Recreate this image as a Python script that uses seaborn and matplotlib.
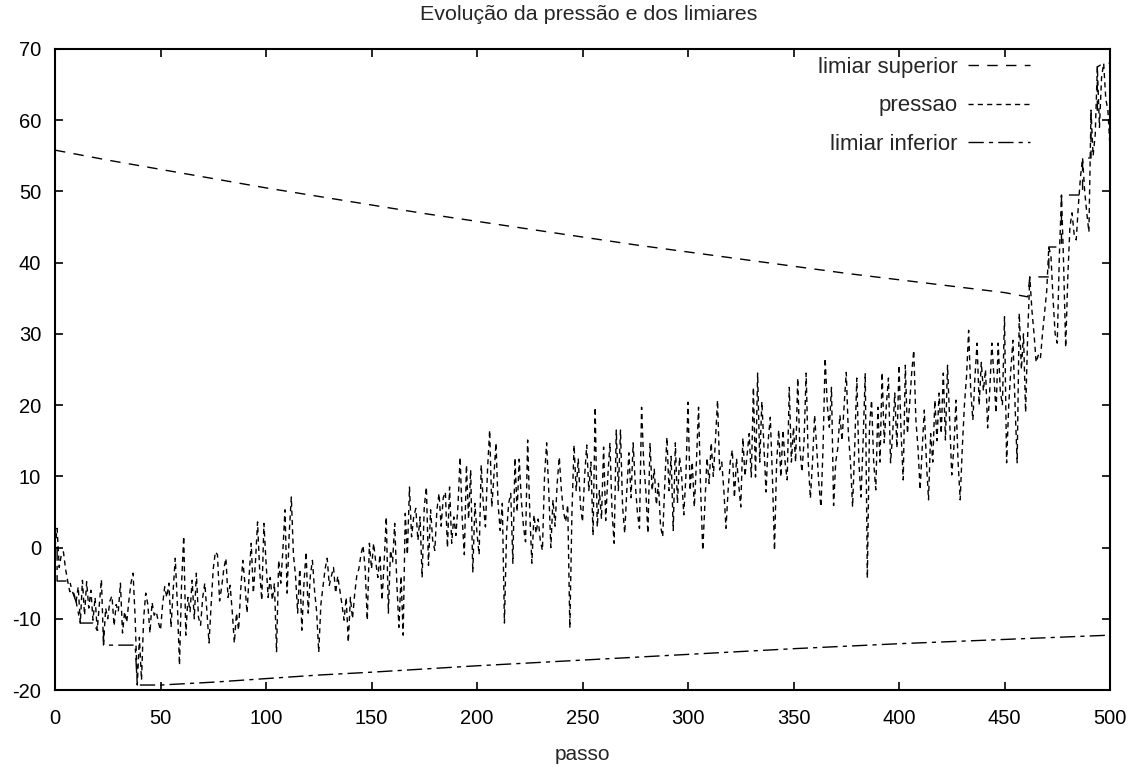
import numpy as np
import pandas as pd
import matplotlib
matplotlib.use("Agg")
import matplotlib.pyplot as plt
import seaborn as sns
from matplotlib.lines import Line2D

# ---- data -------------------------------------------------------------
passo = np.arange(501)

pressao = [
    0.0, 2.7, -2.8, -1.0, -0.6, -3.0, -4.7, -6.2, -6.0, -6.5,
    -7.6, -5.5, -10.6, -4.6, -9.5, -4.8, -8.5, -6.0, -10.2, -7.0,
    -11.6, -8.0, -4.5, -13.7, -8.5, -10.0, -7.5, -6.8, -11.0, -8.0,
    -9.0, -5.0, -12.0, -9.0, -10.5, -7.5, -5.0, -3.6, -10.0, -19.3,
    -12.6, -18.6, -10.0, -6.4, -8.0, -12.0, -7.7, -9.5, -9.0, -10.5,
    -11.6, -8.0, -5.5, -7.0, -5.0, -11.2, -6.0, -1.5, -8.0, -16.5,
    -5.0, 1.6, -12.3, -7.0, -9.0, -4.6, -10.0, -3.6, -9.8, -10.9,
    -7.0, -5.0, -9.0, -13.4, -8.0, -3.0, -0.6, -1.0, -7.5, -5.5,
    -3.0, -1.5, -7.0, -5.3, -9.0, -13.4, -9.2, -11.6, -6.0, -1.8,
    -5.0, -9.2, -4.0, 0.6, -6.4, -2.0, 3.6, -3.2, -7.4, 3.4,
    -2.0, -7.0, -4.2, -7.4, -5.0, -14.7, -1.8, -5.0, -0.4, 5.3,
    -6.4, 2.0, 7.1, -1.0, -4.0, -9.2, -3.0, -11.6, -5.0, -0.6,
    -9.2, -4.0, -1.8, -6.0, -9.0, -14.7, -8.0, -5.5, -3.0, -1.5,
    -5.3, -4.0, -2.8, -6.4, -4.0, -6.0, -8.0, -10.2, -7.0, -13.3,
    -7.0, -10.0, -6.6, -4.0, -3.0, -1.0, 0.3, -3.0, -10.2, 0.6,
    -3.0, 0.6, -2.0, -4.2, -1.0, -7.4, -2.0, 4.3, -9.2, -0.4,
    -2.0, 3.4, -5.0, -11.2, -4.0, -12.3, 4.8, -1.0, 8.5, 1.5,
    4.3, 5.5, 1.0, 4.3, -4.2, 5.7, 8.5, -2.5, 5.3, 1.0,
    -0.4, 5.3, 7.6, 3.0, 7.0, 7.8, 0.0, 8.5, 0.6, 4.3,
    1.7, 6.0, 12.7, 4.0, -1.0, 11.6, 4.0, 10.9, -3.5, 6.2,
    2.0, -1.0, 11.6, 6.0, 2.9, 11.0, 16.5, 5.7, 10.0, 14.7,
    6.0, 2.4, 6.2, -10.6, 2.0, 6.2, 7.6, -2.2, 12.6, 5.0,
    12.4, 6.7, 3.0, 0.8, 15.1, 5.0, -2.2, 4.6, 2.0, 4.0,
    1.0, -0.4, 10.0, 14.7, 8.0, 0.0, 6.7, 3.0, 9.0, 12.7,
    8.0, 5.0, 3.6, 6.0, -11.3, 5.0, 14.4, 8.0, 12.5, 6.0,
    3.6, 10.0, 14.4, 8.0, 12.0, 1.7, 19.7, 2.9, 8.0, 4.0,
    14.1, 3.8, 10.0, 14.7, 5.0, 0.6, 16.5, 8.0, 16.5, 5.7,
    2.0, 8.0, 13.3, 7.0, 14.7, 9.0, 5.0, 2.7, 19.7, 12.0,
    8.0, 2.0, 14.7, 8.0, 11.0, 6.0, 9.0, 3.0, 1.5, 9.0,
    15.5, 8.0, 12.8, 2.4, 14.7, 6.2, 12.7, 10.0, 4.6, 10.0,
    20.4, 8.0, 12.0, 5.7, 12.0, 19.7, 8.0, -0.4, 6.0, 12.6,
    9.0, 14.7, 10.0, 15.0, 20.7, 10.9, 12.0, 8.0, 2.7, 8.0,
    12.0, 13.7, 7.0, 12.5, 9.0, 5.7, 15.4, 10.0, 13.0, 16.0,
    9.9, 22.5, 9.9, 24.5, 12.0, 20.5, 14.0, 7.8, 15.0, 18.3,
    10.0, -0.4, 12.0, 16.5, 9.9, 16.5, 12.0, 9.5, 22.5, 12.0,
    16.9, 12.0, 23.8, 14.0, 10.6, 15.0, 24.5, 12.0, 6.9, 12.0,
    18.6, 14.0, 9.0, 5.7, 14.0, 26.6, 20.0, 16.9, 22.5, 5.9,
    12.0, 14.0, 18.6, 15.0, 20.0, 24.6, 16.0, 12.0, 5.7, 14.0,
    23.8, 12.0, 7.1, 15.0, 24.5, -4.3, 16.9, 20.7, 12.0, 8.1,
    19.7, 12.0, 24.6, 14.7, 20.0, 23.8, 11.9, 16.0, 21.7, 14.0,
    25.6, 16.0, 9.5, 25.6, 16.0, 20.0, 24.5, 27.7, 17.9, 14.0,
    8.1, 14.0, 19.3, 12.0, 6.7, 16.0, 12.0, 20.7, 15.0, 21.7,
    16.0, 24.5, 15.1, 25.6, 18.0, 10.2, 14.0, 20.7, 12.0, 6.7,
    14.0, 20.0, 24.0, 30.5, 22.0, 17.9, 24.0, 28.7, 20.0, 26.0,
    22.0, 25.0, 16.8, 22.0, 28.7, 24.0, 18.9, 28.7, 22.0, 20.0,
    32.4, 11.9, 20.0, 25.0, 29.1, 20.0, 11.9, 32.9, 25.0, 30.0,
    19.0, 30.0, 38.0, 33.3, 30.0, 26.0, 27.0, 26.5, 30.0, 33.0,
    36.0, 42.2, 41.0, 35.0, 30.0, 28.7, 41.0, 49.5, 40.0, 28.1,
    38.0, 45.0, 47.0, 44.0, 43.2, 48.0, 52.0, 54.7, 50.0, 47.0,
    44.3, 61.4, 55.0, 58.0, 67.5, 59.0, 66.0, 68.0, 63.0, 61.4,
    56.2,
]

sup_passo = [0, 25, 50, 75, 100, 125, 150, 175, 200, 225, 250, 275, 300,
             325, 350, 375, 400, 425, 450, 461, 462, 471, 471, 477, 477,
             487, 487, 491, 491, 494, 494, 497, 500]
limiar_superior = [55.8, 54.4, 53.1, 51.8, 50.5, 49.3, 48.1, 46.9, 45.8,
                   44.7, 43.6, 42.5, 41.5, 40.5, 39.5, 38.5, 37.6, 36.7,
                   35.8, 35.2, 38.0, 38.0, 42.2, 42.2, 49.5, 49.5, 54.7,
                   54.7, 61.4, 61.4, 67.5, 68.0, 68.0]

inf_passo = [0, 1, 1, 7, 8, 10, 12, 18, 20, 23, 23, 38, 39, 50, 75, 100,
             125, 150, 200, 250, 300, 350, 400, 450, 500]
limiar_inferior = [0.0, 0.0, -4.7, -4.7, -6.0, -7.6, -10.6, -10.6, -11.6,
                   -11.6, -13.7, -13.7, -19.3, -19.3, -18.9, -18.4, -17.9,
                   -17.5, -16.6, -15.8, -15.0, -14.2, -13.5, -12.9, -12.3]

x_ticks = list(range(0, 501, 50))
y_ticks = list(range(-20, 71, 10))

titulo = "Evolução da pressão e dos limiares"
rotulos = ["limiar superior", "pressao", "limiar inferior"]

# ---- styling ----------------------------------------------------------
sns.set_style("ticks")
plt.rcParams["font.family"] = ["Liberation Sans", "DejaVu Sans"]
plt.rcParams["axes.unicode_minus"] = False

estilo_sup = (0, (7.5, 6.0))
estilo_pre = (0, (3.7, 3.0))
estilo_inf = (0, (11.0, 3.7, 3.0, 3.7))
lw = 1.0

W, H = 1139, 767
fig = plt.figure(figsize=(W / 100, H / 100), dpi=100)
ax = fig.add_axes([55 / W, 1 - 690 / H, 1055 / W, 641 / H])

df_sup = pd.DataFrame({"passo": sup_passo, "valor": limiar_superior})
df_pre = pd.DataFrame({"passo": passo, "valor": pressao})
df_inf = pd.DataFrame({"passo": inf_passo, "valor": limiar_inferior})

for df, ls in [(df_sup, estilo_sup), (df_pre, estilo_pre), (df_inf, estilo_inf)]:
    sns.lineplot(data=df, x="passo", y="valor", ax=ax, color="black",
                 linewidth=lw, estimator=None, sort=False)
    ax.lines[-1].set_linestyle(ls)

ax.set_xlim(0, 500)
ax.set_ylim(-20, 70)
ax.set_xticks(x_ticks)
ax.set_yticks(y_ticks)
ax.tick_params(direction="in", length=6, width=1.2, top=True, right=True,
               labelsize=14.5, colors="black")
ax.tick_params(axis="x", pad=14)
ax.tick_params(axis="y", pad=10)
for s in ax.spines.values():
    s.set_linewidth(1.5)
    s.set_color("black")
    s.set_visible(True)

ax.set_xlabel("passo", fontsize=15, labelpad=12)
ax.set_ylabel("")

fig.text(589 / W, 1 - 14 / H, titulo, ha="center", va="center", fontsize=15.4)

handles = [Line2D([], [], color="black", lw=lw, linestyle=ls)
           for ls in (estilo_sup, estilo_pre, estilo_inf)]
ax.legend(handles, rotulos, loc="upper right",
          bbox_to_anchor=(1030 / W, 1 - 57 / H), bbox_transform=fig.transFigure,
          frameon=False, markerfirst=False, handlelength=2.8,
          handletextpad=0.45, labelspacing=0.78, borderpad=0,
          borderaxespad=0, fontsize=16)

fig.savefig("out.png", dpi=100)
